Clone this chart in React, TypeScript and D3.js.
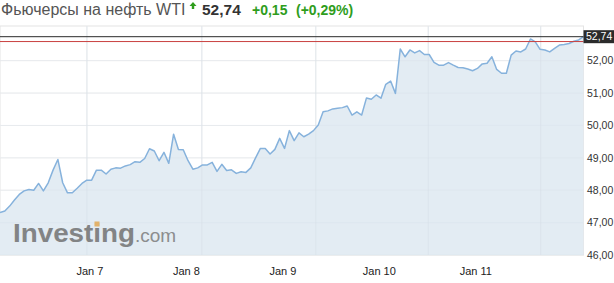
import React from "react";
import * as d3 from "d3";

// ---- data ----
const seriesStart = new Date(2019, 0, 6, 1, 37);
const stepMinutes = 72;
const prices = [
  47.31, 47.36, 47.51, 47.70, 47.87, 47.98, 48.02, 48.00, 48.21, 47.98,
  48.23, 48.62, 48.95, 48.23, 47.92, 47.92, 48.06, 48.21, 48.31, 48.31,
  48.62, 48.62, 48.50, 48.65, 48.69, 48.68, 48.75, 48.79, 48.88, 48.86,
  48.98, 49.28, 49.21, 48.91, 49.17, 48.83, 49.73, 49.26, 49.25, 48.91,
  48.65, 48.69, 48.78, 48.78, 48.86, 48.58, 48.80, 48.61, 48.63, 48.52,
  48.57, 48.55, 48.69, 49.00, 49.29, 49.29, 49.12, 49.26, 49.60, 49.29,
  49.84, 49.53, 49.77, 49.65, 49.73, 49.84, 50.01, 50.42, 50.45, 50.51,
  50.53, 50.55, 50.60, 50.32, 50.42, 50.32, 50.85, 50.81, 50.94, 50.84,
  51.27, 51.37, 50.99, 52.36, 52.12, 52.33, 52.24, 52.31, 52.19, 52.19,
  51.95, 51.86, 51.86, 51.94, 51.86, 51.79, 51.78, 51.74, 51.69, 51.76,
  51.90, 51.92, 52.12, 51.73, 51.61, 51.61, 52.17, 52.30, 52.27, 52.36,
  52.67, 52.58, 52.35, 52.33, 52.27, 52.38, 52.48, 52.50, 52.53, 52.60,
  52.64, 52.74,
];
const lastPrice = 52.74;
const prevClose = 52.59;
const yTicks = [46, 47, 48, 49, 50, 51, 52];
const yDomain = [46, 53.07];
const xTickDates = [
  new Date(2019, 0, 7),
  new Date(2019, 0, 8),
  new Date(2019, 0, 9),
  new Date(2019, 0, 10),
  new Date(2019, 0, 11),
];
const xTickLabels = ["Jan 7", "Jan 8", "Jan 9", "Jan 10", "Jan 11"];
const gridDates = [
  new Date(2019, 0, 6, 23, 15),
  new Date(2019, 0, 8, 3, 51),
  new Date(2019, 0, 9, 8, 12),
  new Date(2019, 0, 10, 12, 11),
  new Date(2019, 0, 11, 16, 10),
];
const titleText = "Фьючерсы на нефть WTI";
const priceText = "52,74";
const changeText = "+0,15";
const changePctText = "(+0,29%)";

const fmt = (v: number) => v.toFixed(2).replace(".", ",");

export default function App() {
  const W = 614;
  const H = 283;
  const plotL = 0;
  const plotR = 583.5;
  const plotT = 26;
  const plotB = 255;

  const times = prices.map(
    (_, i) => new Date(seriesStart.getTime() + i * stepMinutes * 60000)
  );
  const data = prices.map((v, i) => ({ t: times[i], v }));

  const x = d3
    .scaleTime()
    .domain([times[0], times[times.length - 1]])
    .range([plotL, plotR]);
  const y = d3.scaleLinear().domain(yDomain).range([plotB, plotT]);

  const line = d3
    .line<{ t: Date; v: number }>()
    .x((d) => x(d.t))
    .y((d) => y(d.v));
  const area = d3
    .area<{ t: Date; v: number }>()
    .x((d) => x(d.t))
    .y0(plotB)
    .y1((d) => y(d.v));

  const font = "'Liberation Sans', Arial, sans-serif";
  const green = "#2f9d1c";

  return (
    <svg
      width={W}
      height={H}
      style={{ position: "fixed", left: 0, top: 0, background: "#fff" }}
      fontFamily={font}
    >
      {/* header */}
      <text x={1} y={14.5} fontSize={16} fill="#555">
        {titleText}
      </text>
      <path d="M193,2 L196.5,6 L194.2,6 L194.2,9 L191.8,9 L191.8,6 L189.5,6 Z" fill={green} />
      <text x={202} y={14.5} fontSize={15.5} fontWeight="bold" fill="#333">
        {priceText}
      </text>
      <text x={252} y={14.5} fontSize={14} fontWeight="bold" fill={green}>
        {changeText}
      </text>
      <text x={296} y={14.5} fontSize={14} fontWeight="bold" fill={green}>
        {changePctText}
      </text>

      {/* plot frame */}
      <rect x={plotL} y={plotT} width={plotR - plotL} height={plotB - plotT} fill="#fff" stroke="#e4e4e4" strokeWidth={1} />

      {/* grid */}
      {yTicks.map((t) => (
        <line key={"h" + t} x1={plotL} x2={plotR} y1={y(t)} y2={y(t)} stroke="#f0f0f0" />
      ))}
      {gridDates.map((d, i) => (
        <line key={"v" + i} x1={x(d)} x2={x(d)} y1={plotT} y2={plotB} stroke="#f0f0f0" />
      ))}

      {/* area */}
      <path d={area(data) || ""} fill="#e3ecf3" />
      {gridDates.map((d, i) => (
        <line key={"vv" + i} x1={x(d)} x2={x(d)} y1={plotT} y2={plotB} stroke="#d6dfe7" strokeOpacity={0.6} />
      ))}
      {yTicks.map((t) => (
        <line key={"hh" + t} x1={plotL} x2={plotR} y1={y(t)} y2={y(t)} stroke="#d6dfe7" strokeOpacity={0.35} />
      ))}

      {/* watermark */}
      <g opacity={0.85}>
        <text x={13} y={242} fontSize={26} fontWeight="bold" fill="#727272" textLength={122} lengthAdjust="spacingAndGlyphs">
          Investing
        </text>
        <rect x={94.5} y={221.5} width={5} height={5} fill="#e2a955" />
        <text x={135} y={242} fontSize={19} fill="#7d7d7d">
          .com
        </text>
      </g>

      <path d={line(data) || ""} fill="none" stroke="#86b2dc" strokeWidth={1.5} strokeLinejoin="round" />

      {/* reference lines */}
      <line x1={plotL} x2={plotR} y1={y(prevClose)} y2={y(prevClose)} stroke="#c9413f" strokeWidth={1} />
      <line x1={plotL} x2={plotR} y1={y(lastPrice)} y2={y(lastPrice)} stroke="#2a2a2a" strokeWidth={1} />

      {/* y axis labels */}
      {yTicks.map((t) => (
        <text key={"yl" + t} x={587} y={y(t)} dy="0.35em" fontSize={10.5} fill="#333">
          {fmt(t)}
        </text>
      ))}
      <rect x={583.5} y={y(lastPrice) - 6.5} width={30.5} height={13} fill="#2b2b2b" />
      <text x={586} y={y(lastPrice)} dy="0.35em" fontSize={10.5} fill="#fff">
        {fmt(lastPrice)}
      </text>

      {/* x axis labels */}
      {xTickDates.map((d, i) => (
        <text key={"xl" + i} x={x(d)} y={271} dy="0.35em" fontSize={11} fill="#222" textAnchor="middle">
          {xTickLabels[i]}
        </text>
      ))}
    </svg>
  );
}
